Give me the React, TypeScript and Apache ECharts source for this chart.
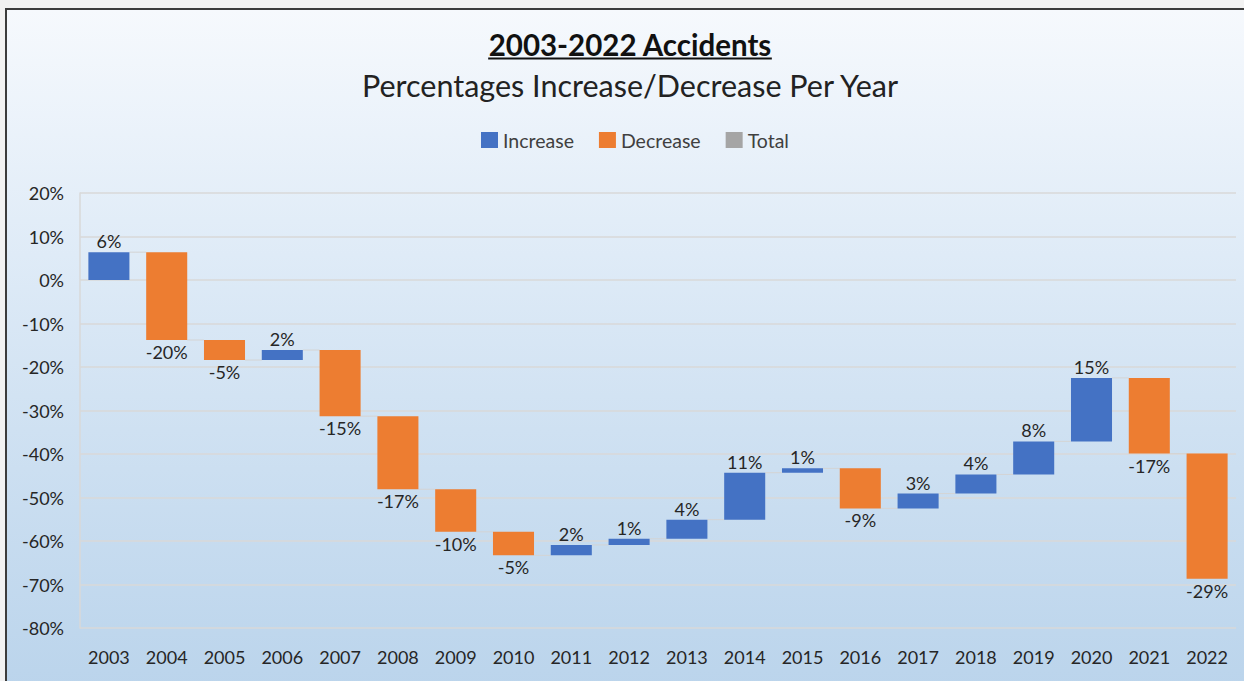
import React, { useEffect, useRef } from 'react';
import * as echarts from 'echarts';

const years = ['2003', '2004', '2005', '2006', '2007', '2008', '2009', '2010', '2011', '2012', '2013', '2014', '2015', '2016', '2017', '2018', '2019', '2020', '2021', '2022'];
const changes = [6.4, -20.2, -4.6, 2.3, -15.2, -16.8, -9.8, -5.4, 2.4, 1.4, 4.4, 10.8, 1.0, -9.2, 3.4, 4.4, 7.6, 14.6, -17.4, -28.8];
const legendNames = ['Increase', 'Decrease', 'Total'];
const yMin = -80;
const yMax = 20;
const yInterval = 10;
const titleText = '2003-2022 Accidents';
const subtitleText = 'Percentages Increase/Decrease Per Year';

const COLORS = { inc: '#4472C4', dec: '#ED7D31', total: '#A5A5A5' };
const FONT = 'Lato, "Open Sans", sans-serif';
const TEXT_COLOR = '#262626';
const BAR_RATIO = 0.71;

export default function App() {
  const ref = useRef<HTMLDivElement>(null);

  useEffect(() => {
    document.body.style.margin = '0';
    const chart = echarts.init(ref.current as HTMLDivElement, null, { renderer: 'svg' });

    let level = 0;
    const inc: number[][] = [];
    const dec: number[][] = [];
    const conn: number[][] = [];
    changes.forEach((c, i) => {
      const start = level;
      const end = level + c;
      level = end;
      (c >= 0 ? inc : dec).push([i, start, end, c]);
      if (i < changes.length - 1) conn.push([i, end]);
    });

    const makeRender = (isInc: boolean, color: string) => (params: any, api: any) => {
      const i = api.value(0);
      const s = api.value(1);
      const e = api.value(2);
      const c = api.value(3);
      const p1 = api.coord([i, s]);
      const p2 = api.coord([i, e]);
      const w = api.size([1, 0])[0] * BAR_RATIO;
      const top = Math.min(p1[1], p2[1]);
      const bottom = Math.max(p1[1], p2[1]);
      const h = Math.max(bottom - top, 1);
      return {
        type: 'group',
        children: [
          {
            type: 'rect',
            shape: { x: p1[0] - w / 2, y: top, width: w, height: h },
            style: { fill: color },
          },
          {
            type: 'text',
            x: p1[0],
            y: isInc ? top - 2 : bottom + 3,
            style: {
              text: Math.round(c) + '%',
              fill: TEXT_COLOR,
              font: '18px ' + FONT,
              align: 'center',
              verticalAlign: isInc ? 'bottom' : 'top',
            },
          },
        ],
      };
    };

    const renderConn = (params: any, api: any) => {
      const i = api.value(0);
      const v = api.value(1);
      const w = api.size([1, 0])[0] * BAR_RATIO;
      const a = api.coord([i, v]);
      const b = api.coord([i + 1, v]);
      return {
        type: 'line',
        shape: { x1: a[0] + w / 2, y1: a[1], x2: b[0] - w / 2, y2: b[1] },
        style: { stroke: '#d4d4d4', lineWidth: 1 },
      };
    };

    const ctx = document.createElement('canvas').getContext('2d') as CanvasRenderingContext2D;
    ctx.font = 'bold 29.5px ' + FONT;
    const titleW = ctx.measureText(titleText).width;
    const cx = 630;

    chart.setOption({
      animation: false,
      backgroundColor: 'transparent',
      textStyle: { fontFamily: FONT },
      graphic: [
        {
          type: 'text',
          x: cx,
          y: 44,
          style: {
            text: titleText,
            font: 'bold 29.5px ' + FONT,
            fill: '#111',
            align: 'center',
            verticalAlign: 'middle',
          },
        },
        {
          type: 'line',
          shape: { x1: cx - titleW / 2, y1: 58.5, x2: cx + titleW / 2, y2: 58.5 },
          style: { stroke: '#111', lineWidth: 2 },
        },
        {
          type: 'text',
          x: cx,
          y: 85,
          style: {
            text: subtitleText,
            font: '30.5px ' + FONT,
            fill: '#222',
            align: 'center',
            verticalAlign: 'middle',
          },
        },
      ],
      legend: {
        data: legendNames,
        top: 125,
        left: 476,
        icon: 'rect',
        itemWidth: 17,
        itemHeight: 16,
        itemGap: 25,
        textStyle: { fontSize: 19.5, color: '#404040', fontFamily: FONT },
      },
      grid: { left: 80, right: 8, top: 193, bottom: 53 },
      xAxis: {
        type: 'category',
        data: years,
        axisLine: { show: false },
        axisTick: { show: false },
        axisLabel: { fontSize: 18, color: TEXT_COLOR, margin: 20, fontFamily: FONT },
        splitLine: { show: false },
      },
      yAxis: {
        type: 'value',
        min: yMin,
        max: yMax,
        interval: yInterval,
        axisLine: { show: true, lineStyle: { color: '#d9d9d9', width: 1.5 } },
        axisTick: { show: false },
        axisLabel: { formatter: '{value}%', fontSize: 18, color: TEXT_COLOR, margin: 16, fontFamily: FONT },
        splitLine: { lineStyle: { color: '#d9d9d9', width: 1.5 } },
      },
      series: [
        {
          name: 'connectors',
          type: 'custom',
          renderItem: renderConn,
          data: conn,
          encode: { x: 0, y: 1 },
          silent: true,
          z: 1,
        },
        {
          name: 'Increase',
          type: 'custom',
          renderItem: makeRender(true, COLORS.inc),
          data: inc,
          encode: { x: 0, y: [1, 2] },
          itemStyle: { color: COLORS.inc },
          z: 2,
        },
        {
          name: 'Decrease',
          type: 'custom',
          renderItem: makeRender(false, COLORS.dec),
          data: dec,
          encode: { x: 0, y: [1, 2] },
          itemStyle: { color: COLORS.dec },
          z: 2,
        },
        {
          name: 'Total',
          type: 'bar',
          data: [],
          itemStyle: { color: COLORS.total },
        },
      ],
    });

    return () => chart.dispose();
  }, []);

  return (
    <div style={{ position: 'relative', width: 1244, height: 681, overflow: 'hidden', background: '#f2f2f2' }}>
      <div
        style={{
          position: 'absolute',
          left: 5,
          top: 8,
          width: 1270,
          height: 700,
          borderTop: '2px solid #3c3c3c',
          borderLeft: '2px solid #3c3c3c',
          background: 'linear-gradient(to bottom, #f6f9fd 0%, #e2edf8 30%, #cfe1f2 60%, #b9d3eb 100%)',
        }}
      />
      <div ref={ref} style={{ position: 'absolute', left: 0, top: 0, width: 1244, height: 681 }} />
    </div>
  );
}
